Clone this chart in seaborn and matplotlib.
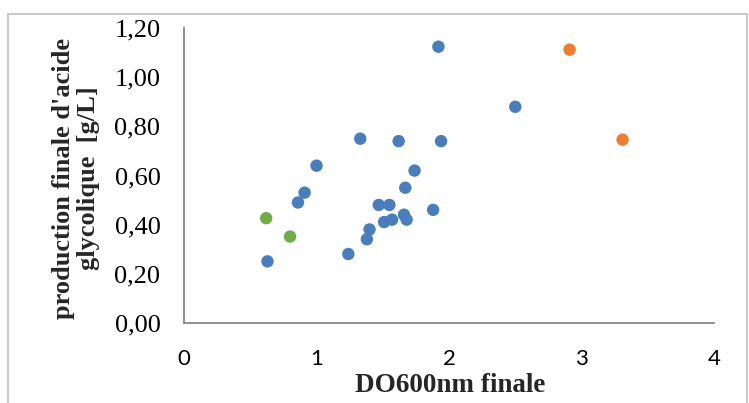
import pandas as pd
import numpy as np
import matplotlib.pyplot as plt
import seaborn as sns
from matplotlib.patches import Rectangle
from matplotlib.ticker import FuncFormatter


# values
blue_x = [0.63, 0.86, 0.91, 1.00, 1.33, 1.24, 1.38, 1.40, 1.47, 1.55, 1.51,
          1.57, 1.62, 1.67, 1.74, 1.66, 1.68, 1.88, 1.94, 1.92, 2.50]
blue_y = [0.25, 0.49, 0.53, 0.64, 0.75, 0.28, 0.34, 0.38, 0.48, 0.48, 0.41,
          0.42, 0.74, 0.55, 0.62, 0.44, 0.42, 0.46, 0.74, 1.125, 0.88]
orange_x = [2.91, 3.31]
orange_y = [1.113, 0.746]
green_x = [0.62, 0.80]
green_y = [0.426, 0.351]

x_ticks = [0, 1, 2, 3, 4]
y_ticks = [0.0, 0.2, 0.4, 0.6, 0.8, 1.0, 1.2]

df = pd.DataFrame({
    "DO": blue_x + orange_x + green_x,
    "AG": blue_y + orange_y + green_y,
    "groupe": ["a"] * len(blue_x) + ["b"] * len(orange_x) + ["c"] * len(green_x),
})

sns.set_style("white")
plt.rcParams["font.family"] = ["Liberation Serif", "DejaVu Serif"]

fig = plt.figure(figsize=(7.49, 4.03), dpi=100)
ax = fig.add_axes([0.2457, 0.1993, 0.9533 - 0.2457, 0.9298 - 0.1993])

# outer chart frame
fig.patches.append(Rectangle((8 / 749, -0.05), 739 / 749, 1 - 14 / 403 + 0.05,
                             transform=fig.transFigure, fill=False,
                             edgecolor="#BFBFBF", linewidth=1.2))

sns.scatterplot(data=df, x="DO", y="AG", hue="groupe",
                palette={"a": "#4A7EBB", "b": "#ED7D31", "c": "#70AD47"},
                s=80, edgecolor="none", legend=False, ax=ax, zorder=3)

ax.set_xlim(0, 4)
ax.set_ylim(0, 1.2)
ax.set_xticks(x_ticks)
ax.set_yticks(y_ticks)
ax.yaxis.set_major_formatter(FuncFormatter(lambda v, p: f"{v:.2f}".replace(".", ",")))

for side in ["top", "right"]:
    ax.spines[side].set_visible(False)
for side in ["left", "bottom"]:
    ax.spines[side].set_color("#868686")
    ax.spines[side].set_linewidth(1.3)

ax.tick_params(axis="both", which="major", direction="out", color="#868686",
               width=1.3, colors="black")
ax.tick_params(axis="x", length=7, pad=12, labelsize=16)
ax.tick_params(axis="y", length=7, pad=10, labelsize=19)
for lab in ax.get_xticklabels():
    lab.set_fontfamily(["Lato", "DejaVu Sans"])

ax.set_xlabel("DO600nm finale", fontsize=19.5, fontweight="bold")
ax.xaxis.set_label_coords(0.502, -0.17)
ax.set_ylabel("production finale d'acide\nglycolique  [g/L]", fontsize=19,
              fontweight="bold", linespacing=1.1)
ax.yaxis.set_label_coords(-0.158, 0.49)

fig.savefig("out.png", dpi=100)
